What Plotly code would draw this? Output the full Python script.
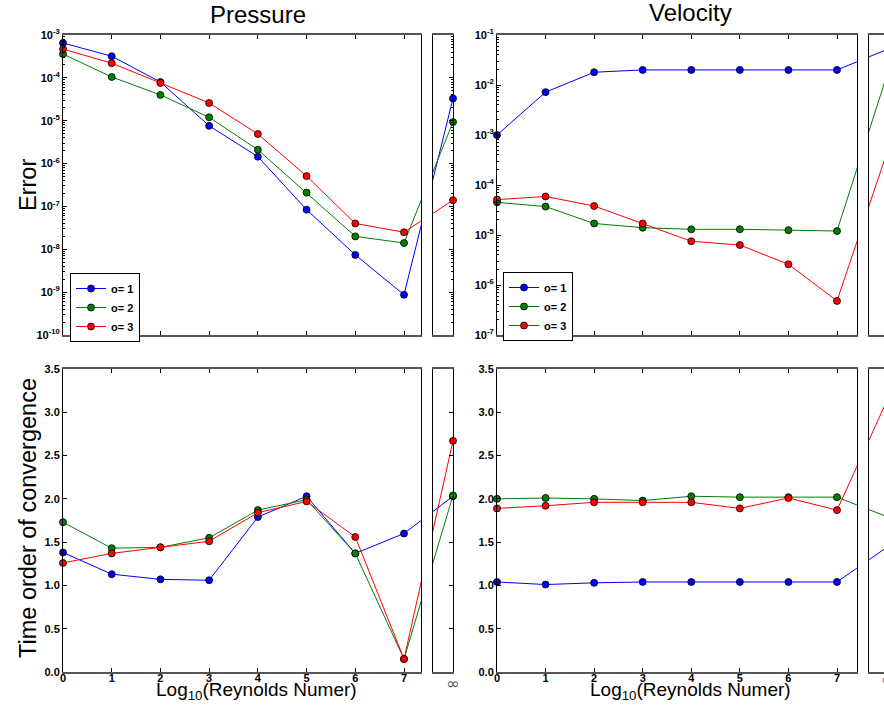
import plotly.graph_objects as go

# ---------------- data ----------------
re_log = [0, 1, 2, 3, 4, 5, 6, 7]
x_inf = 8  # position used for the "infinity" Reynolds number
series_names = ["o= 1", "o= 2", "o= 3"]
colors = ["#0000ff", "#008000", "#ff0000"]

# Pressure error
p_err_o1 = [6.5e-4, 3.2e-4, 8.0e-5, 7.6e-6, 1.45e-6, 8.4e-8, 7.4e-9, 8.7e-10]
p_err_o2 = [3.6e-4, 1.05e-4, 4.0e-5, 1.2e-5, 2.1e-6, 2.1e-7, 2.0e-8, 1.4e-8]
p_err_o3 = [4.7e-4, 2.2e-4, 7.6e-5, 2.6e-5, 4.9e-6, 5.1e-7, 4.0e-8, 2.5e-8]
p_err_inf = [3.3e-5, 9.3e-6, 1.4e-7]

# Velocity error
v_err_o1 = [1.0e-3, 7.2e-3, 1.8e-2, 2.0e-2, 2.0e-2, 2.0e-2, 2.0e-2, 2.0e-2]
v_err_o2 = [4.5e-5, 3.7e-5, 1.7e-5, 1.4e-5, 1.3e-5, 1.3e-5, 1.25e-5, 1.2e-5]
v_err_o3 = [5.1e-5, 5.9e-5, 3.8e-5, 1.7e-5, 7.5e-6, 6.3e-6, 2.6e-6, 4.8e-7]
v_err_inf = [5.0e-2, 1.3e-2, 3.7e-4]

# Pressure order of convergence
p_ord_o1 = [1.38, 1.13, 1.07, 1.06, 1.79, 2.03, 1.37, 1.60]
p_ord_o2 = [1.73, 1.43, 1.44, 1.55, 1.87, 1.99, 1.37, 0.15]
p_ord_o3 = [1.26, 1.37, 1.44, 1.51, 1.84, 1.97, 1.56, 0.15]
p_ord_inf = [2.03, 2.04, 2.67]

# Velocity order of convergence
v_ord_o1 = [1.04, 1.01, 1.03, 1.04, 1.04, 1.04, 1.04, 1.04]
v_ord_o2 = [2.00, 2.01, 2.00, 1.98, 2.03, 2.02, 2.02, 2.02]
v_ord_o3 = [1.89, 1.92, 1.96, 1.96, 1.96, 1.89, 2.01, 1.87]
v_ord_inf = [1.43, 1.80, 3.10]

x_tick_vals = [0, 1, 2, 3, 4, 5, 6, 7]
x_tick_text = ["0", "1", "2", "3", "4", "5", "6", "7"]
p_err_exps = [-10, -9, -8, -7, -6, -5, -4, -3]
v_err_exps = [-7, -6, -5, -4, -3, -2, -1]
ord_ticks = [0.0, 0.5, 1.0, 1.5, 2.0, 2.5, 3.0, 3.5]

# ---------------- layout geometry (pixels) ----------------
W, H = 884, 707
def px(x):
    return x / W
def py(y):
    return 1 - y / H

FONT = "Liberation Sans, Arial, sans-serif"
EDGE_GRAY = "#555555"

fig = go.Figure()

panels = [
    ("", "2", [p_err_o1, p_err_o2, p_err_o3], p_err_inf, True, "legend"),
    ("3", "4", [v_err_o1, v_err_o2, v_err_o3], v_err_inf, True, "legend2"),
    ("5", "6", [p_ord_o1, p_ord_o2, p_ord_o3], p_ord_inf, False, None),
    ("7", "8", [v_ord_o1, v_ord_o2, v_ord_o3], v_ord_inf, False, None),
]

for main_id, inf_id, series, infvals, is_log, leg in panels:
    for s, c, iv in zip(series, colors, infvals):
        for aid in (main_id, inf_id):
            fig.add_trace(go.Scatter(
                x=[re_log[-1], x_inf], y=[s[-1], iv], mode="lines",
                line=dict(color=c, width=1), showlegend=False, hoverinfo="skip",
                xaxis="x" + aid, yaxis="y" + aid))
    for s, c, name, iv in zip(series, colors, series_names, infvals):
        fig.add_trace(go.Scatter(
            x=re_log, y=s, mode="lines+markers", name=name,
            line=dict(color=c, width=1),
            marker=dict(color=c, size=7, line=dict(color="black", width=0.8)),
            cliponaxis=False, showlegend=leg is not None,
            legend=leg if leg else "legend",
            xaxis="x" + main_id, yaxis="y" + main_id))
        fig.add_trace(go.Scatter(
            x=[x_inf], y=[iv], mode="markers",
            marker=dict(color=c, size=7, line=dict(color="black", width=0.8)),
            cliponaxis=False, showlegend=False,
            xaxis="x" + inf_id, yaxis="y" + inf_id))

tickfont = dict(family=FONT, size=11, color="black", weight="bold")
inf_font = dict(family="DejaVu Sans", size=16, color="#555555")

def minor_log(exps):
    vals = []
    for e in exps[:-1]:
        for k in range(2, 10):
            vals.append(k * 10 ** e)
    return vals

def xaxis_main(dom, rng, labels, anchor):
    return dict(domain=dom, range=rng, anchor=anchor, showgrid=False, zeroline=False,
                showline=True, linecolor=EDGE_GRAY, linewidth=2, mirror="ticks",
                ticks="inside", ticklen=4, tickcolor="black", tickwidth=1,
                tickvals=x_tick_vals, ticktext=x_tick_text, showticklabels=labels,
                tickfont=tickfont, ticklabelstandoff=-5)

def xaxis_inf(dom, rng, labels, anchor, show_tick=True):
    return dict(domain=dom, range=rng, anchor=anchor, showgrid=False, zeroline=False,
                showline=True, linecolor=EDGE_GRAY, linewidth=2, mirror=True,
                ticks="inside" if show_tick else "", ticklen=4, tickcolor="black",
                tickvals=[x_inf], ticktext=["\u221e"], showticklabels=labels,
                tickfont=inf_font, ticklabelstandoff=-4)

def yaxis_main(dom, is_log, exps, anchor):
    if is_log:
        return dict(domain=dom, type="log", range=[exps[0], exps[-1]], anchor=anchor,
                    showgrid=False, zeroline=False, showline=True, linecolor="black",
                    linewidth=1, mirror=True, ticks="inside", ticklen=4, tickcolor="black",
                    tickvals=[10 ** e for e in exps],
                    ticktext=["10<sup>%d</sup>" % e for e in exps],
                    tickfont=tickfont,
                    minor=dict(tickvals=minor_log(exps), ticks="inside", ticklen=2,
                               tickcolor="black", showgrid=False))
    return dict(domain=dom, range=[0, 3.5], anchor=anchor, showgrid=False, zeroline=False,
                showline=True, linecolor="black", linewidth=1, mirror=True,
                ticks="inside", ticklen=4, tickcolor="black",
                tickvals=ord_ticks, ticktext=["%.1f" % v for v in ord_ticks],
                tickfont=tickfont)

def yaxis_inf(dom, is_log, exps, anchor, with_ticks=True):
    d = dict(domain=dom, anchor=anchor, showgrid=False, zeroline=False,
             showline=True, linecolor="black", linewidth=1,
             showticklabels=False, tickcolor="black", ticklen=4)
    if with_ticks:
        d.update(side="right", mirror=True, ticks="inside")
    else:
        d.update(side="left", mirror=False, ticks="")
    if is_log:
        d.update(type="log", range=[exps[0], exps[-1]],
                 tickvals=[10 ** e for e in exps])
        if with_ticks:
            d["minor"] = dict(tickvals=minor_log(exps), ticks="inside", ticklen=2,
                              tickcolor="black", showgrid=False)
    else:
        d.update(range=[0, 3.5], tickvals=ord_ticks)
    return d

top_dom = [py(335), py(35)]
bot_dom = [py(672), py(369)]
pm_dom = [px(63), px(421)]
pi_dom = [px(433), px(453)]
vm_dom = [px(497), px(857)]
vi_dom = [px(869), 1.0]

p_unit = (404 - 63) / 7.0
v_unit = (837 - 497) / 7.0
pm_rng = [0, (421 - 63) / p_unit]
pi_rng = [8 - (453 - 433) / p_unit, 8]
vm_rng = [0, (857 - 497) / v_unit]
vi_lo = 7 + (869 - 837) / v_unit
vi_rng = [vi_lo, vi_lo + (884 - 869) / v_unit]

fig.update_layout(
    xaxis=xaxis_main(pm_dom, pm_rng, False, "y"),
    yaxis=yaxis_main(top_dom, True, p_err_exps, "x"),
    xaxis2=xaxis_inf(pi_dom, pi_rng, False, "y2"),
    yaxis2=yaxis_inf(top_dom, True, p_err_exps, "x2"),
    xaxis3=xaxis_main(vm_dom, vm_rng, False, "y3"),
    yaxis3=yaxis_main(top_dom, True, v_err_exps, "x3"),
    xaxis4=xaxis_inf(vi_dom, vi_rng, False, "y4", show_tick=False),
    yaxis4=yaxis_inf(top_dom, True, v_err_exps, "x4", with_ticks=False),
    xaxis5=xaxis_main(pm_dom, pm_rng, True, "y5"),
    yaxis5=yaxis_main(bot_dom, False, None, "x5"),
    xaxis6=xaxis_inf(pi_dom, pi_rng, True, "y6"),
    yaxis6=yaxis_inf(bot_dom, False, None, "x6"),
    xaxis7=xaxis_main(vm_dom, vm_rng, True, "y7"),
    yaxis7=yaxis_main(bot_dom, False, None, "x7"),
    xaxis8=xaxis_inf(vi_dom, vi_rng, False, "y8", show_tick=False),
    yaxis8=yaxis_inf(bot_dom, False, None, "x8", with_ticks=False),
)

legend_style = dict(bgcolor="white", bordercolor="black", borderwidth=1,
                    font=dict(family=FONT, size=11, color="black", weight="bold"),
                    xanchor="left", yanchor="top", tracegroupgap=0, itemwidth=30)
fig.update_layout(
    legend=dict(x=px(70), y=py(273), **legend_style),
    legend2=dict(x=px(503), y=py(272), **legend_style),
)

ann = []
title_font = dict(family=FONT, size=24, color="black")
ylab_font = dict(family=FONT, size=23.5, color="black")
ann.append(dict(text="Pressure", x=px(258), y=py(15), xref="paper", yref="paper",
                showarrow=False, font=title_font, xanchor="center", yanchor="middle"))
ann.append(dict(text="Velocity", x=px(690), y=py(13), xref="paper", yref="paper",
                showarrow=False, font=title_font, xanchor="center", yanchor="middle"))
ann.append(dict(text="Error", x=px(28), y=py(185), xref="paper", yref="paper",
                showarrow=False, font=ylab_font, textangle=-90,
                xanchor="center", yanchor="middle"))
ann.append(dict(text="Time order of convergence", x=px(28), y=py(518), xref="paper",
                yref="paper", showarrow=False, font=ylab_font, textangle=-90,
                xanchor="center", yanchor="middle"))
xt_font = dict(family=FONT, size=19, color="black")
for cx in (256, 690):
    ann.append(dict(text="Log<sub>10</sub>(Reynolds Numer)", x=px(cx), y=py(691),
                    xref="paper", yref="paper", showarrow=False, font=xt_font,
                    xanchor="center", yanchor="middle"))
ann.append(dict(text="\u221e", x=px(887), y=py(679), xref="paper", yref="paper",
                showarrow=False, font=inf_font, xanchor="center", yanchor="middle"))

fig.update_layout(
    annotations=ann,
    width=W, height=H,
    margin=dict(l=0, r=0, t=0, b=0, autoexpand=False),
    paper_bgcolor="white", plot_bgcolor="white",
    font=dict(family=FONT),
    hovermode=False,
)

fig.write_html("out.html", config={"displayModeBar": False})
